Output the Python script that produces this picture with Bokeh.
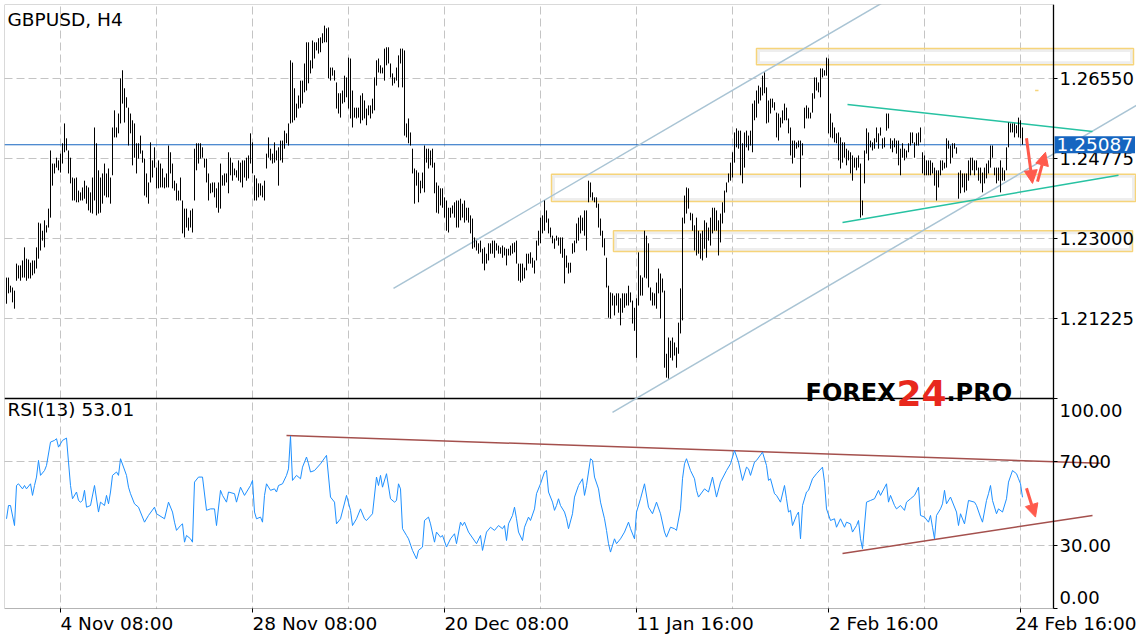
from bokeh.plotting import figure
from bokeh.models import (Range1d, FixedTicker, Grid, Label, Arrow, NormalHead, LinearAxis,
                          PrintfTickFormatter, BoxAnnotation)
from bokeh.embed import file_html
from bokeh.resources import INLINE
from bokeh.core.properties import value

# ---------------- data (GBPUSD H4) ----------------
highs = [
1.2214,1.2214,1.2196,1.2192,1.2185,1.2245,1.2241,1.2241,1.2252,1.2281,
1.2256,1.2254,1.2247,1.2252,1.2252,1.2281,1.2336,1.2334,1.2318,1.2341,
1.2330,1.2367,1.2496,1.2467,1.2467,1.2480,1.2474,1.2489,1.2512,1.2556,
1.2523,1.2496,1.2480,1.2436,1.2434,1.2436,1.2407,1.2403,1.2414,1.2429,
1.2418,1.2414,1.2403,1.2436,1.2547,1.2512,1.2452,1.2436,1.2445,1.2467,
1.2445,1.2456,1.2436,1.2547,1.2585,1.2547,1.2578,1.2656,1.2674,1.2634,
1.2614,1.2591,1.2578,1.2563,1.2556,1.2512,1.2512,1.2529,1.2496,1.2478,
1.2445,1.2425,1.2514,1.2474,1.2503,1.2458,1.2474,1.2467,1.2456,1.2436,
1.2445,1.2507,1.2492,1.2467,1.2429,1.2423,1.2407,1.2436,1.2385,1.2367,
1.2367,1.2347,1.2363,1.2367,1.2500,1.2512,1.2512,1.2512,1.2503,1.2478,
1.2478,1.2445,1.2423,1.2425,1.2425,1.2412,1.2425,1.2467,1.2441,1.2445,
1.2445,1.2492,1.2480,1.2469,1.2456,1.2452,1.2474,1.2469,1.2474,1.2474,
1.2480,1.2485,1.2534,1.2514,1.2441,1.2434,1.2423,1.2423,1.2418,1.2429,
1.2489,1.2525,1.2500,1.2489,1.2514,1.2496,1.2503,1.2518,1.2518,1.2540,
1.2534,1.2556,1.2696,1.2691,1.2634,1.2600,1.2618,1.2651,1.2651,1.2689,
1.2736,1.2736,1.2696,1.2740,1.2736,1.2736,1.2745,1.2747,1.2756,1.2773,
1.2767,1.2769,1.2680,1.2680,1.2674,1.2647,1.2623,1.2623,1.2629,1.2662,
1.2658,1.2702,1.2700,1.2629,1.2591,1.2591,1.2591,1.2618,1.2623,1.2607,
1.2589,1.2596,1.2596,1.2611,1.2658,1.2696,1.2700,1.2685,1.2680,1.2722,
1.2725,1.2725,1.2689,1.2667,1.2658,1.2680,1.2707,1.2722,1.2722,1.2718,
1.2556,1.2567,1.2536,1.2500,1.2456,1.2452,1.2447,1.2429,1.2447,1.2507,
1.2500,1.2500,1.2496,1.2500,1.2469,1.2425,1.2418,1.2412,1.2412,1.2392,
1.2385,1.2369,1.2369,1.2374,1.2381,1.2385,1.2385,1.2389,1.2378,1.2385,
1.2369,1.2369,1.2352,1.2345,1.2303,1.2296,1.2290,1.2296,1.2278,1.2281,
1.2267,1.2290,1.2290,1.2296,1.2296,1.2290,1.2285,1.2281,1.2285,1.2281,
1.2278,1.2278,1.2285,1.2290,1.2292,1.2296,1.2245,1.2245,1.2245,1.2236,
1.2267,1.2267,1.2270,1.2258,1.2252,1.2296,1.2318,1.2347,1.2352,1.2385,
1.2363,1.2345,1.2325,1.2307,1.2301,1.2307,1.2303,1.2303,1.2303,1.2278,
1.2263,1.2247,1.2247,1.2290,1.2296,1.2334,1.2347,1.2352,1.2347,1.2363,
1.2363,1.2429,1.2425,1.2403,1.2392,1.2392,1.2378,1.2345,1.2318,1.2301,
1.2258,1.2196,1.2181,1.2179,1.2174,1.2179,1.2179,1.2168,1.2179,1.2179,
1.2179,1.2196,1.2181,1.2163,1.2147,1.2168,1.2270,1.2219,1.2214,1.2318,
1.2307,1.2290,1.2192,1.2181,1.2179,1.2203,1.2234,1.2223,1.2212,1.2185,
1.2045,1.2081,1.2074,1.2081,1.2070,1.2059,1.2114,1.2190,1.2347,1.2396,
1.2414,1.2412,1.2358,1.2356,1.2330,1.2347,1.2318,1.2312,1.2318,1.2341,
1.2336,1.2325,1.2347,1.2369,1.2369,1.2363,1.2341,1.2356,1.2381,1.2407,
1.2425,1.2445,1.2469,1.2492,1.2536,1.2545,1.2540,1.2540,1.2512,1.2536,
1.2540,1.2529,1.2540,1.2600,1.2607,1.2629,1.2640,1.2636,1.2662,1.2669,
1.2636,1.2607,1.2611,1.2611,1.2603,1.2580,1.2578,1.2569,1.2585,1.2600,
1.2591,1.2567,1.2547,1.2518,1.2518,1.2514,1.2518,1.2518,1.2512,1.2591,
1.2596,1.2591,1.2580,1.2623,1.2658,1.2658,1.2647,1.2678,1.2678,1.2674,
1.2702,1.2700,1.2578,1.2558,1.2547,1.2534,1.2536,1.2525,1.2514,1.2514,
1.2500,1.2496,1.2492,1.2485,1.2480,1.2480,1.2485,1.2467,1.2385,1.2496,
1.2545,1.2536,1.2518,1.2514,1.2523,1.2547,1.2534,1.2547,1.2523,1.2525,
1.2578,1.2578,1.2523,1.2518,1.2523,1.2518,1.2518,1.2500,1.2512,1.2500,
1.2496,1.2512,1.2536,1.2536,1.2514,1.2534,1.2536,1.2547,1.2492,1.2485,
1.2474,1.2474,1.2474,1.2469,1.2458,1.2452,1.2452,1.2474,1.2474,1.2469,
1.2523,1.2518,1.2507,1.2512,1.2512,1.2503,1.2447,1.2452,1.2445,1.2445,
1.2445,1.2474,1.2480,1.2480,1.2474,1.2474,1.2458,1.2458,1.2447,1.2458,
1.2467,1.2474,1.2507,1.2507,1.2458,1.2458,1.2458,1.2474,1.2458,1.2452,
1.2503,1.2558,1.2556,1.2556,1.2556,1.2552,1.2569,1.2563,1.2547]

lows = [
1.2156,1.2179,1.2181,1.2159,1.2145,1.2207,1.2212,1.2207,1.2214,1.2214,
1.2207,1.2212,1.2212,1.2219,1.2223,1.2234,1.2256,1.2274,1.2296,1.2281,
1.2314,1.2325,1.2347,1.2418,1.2445,1.2458,1.2452,1.2447,1.2467,1.2492,
1.2496,1.2445,1.2423,1.2385,1.2385,1.2381,1.2381,1.2385,1.2385,1.2389,
1.2378,1.2363,1.2358,1.2356,1.2385,1.2352,1.2356,1.2358,1.2378,1.2396,
1.2392,1.2392,1.2378,1.2441,1.2525,1.2525,1.2534,1.2556,1.2600,1.2558,
1.2591,1.2507,1.2534,1.2463,1.2480,1.2445,1.2478,1.2489,1.2469,1.2396,
1.2392,1.2378,1.2425,1.2436,1.2458,1.2412,1.2412,1.2414,1.2414,1.2412,
1.2414,1.2414,1.2445,1.2412,1.2407,1.2385,1.2385,1.2385,1.2312,1.2303,
1.2325,1.2318,1.2325,1.2314,1.2385,1.2452,1.2467,1.2478,1.2480,1.2458,
1.2425,1.2385,1.2401,1.2403,1.2392,1.2369,1.2358,1.2367,1.2418,1.2418,
1.2425,1.2401,1.2441,1.2429,1.2441,1.2436,1.2429,1.2425,1.2414,1.2436,
1.2429,1.2434,1.2467,1.2445,1.2385,1.2385,1.2392,1.2396,1.2392,1.2385,
1.2456,1.2480,1.2474,1.2467,1.2469,1.2474,1.2418,1.2474,1.2469,1.2500,
1.2512,1.2507,1.2556,1.2558,1.2563,1.2569,1.2589,1.2591,1.2600,1.2625,
1.2629,1.2645,1.2667,1.2678,1.2700,1.2718,1.2711,1.2714,1.2734,1.2736,
1.2736,1.2656,1.2651,1.2662,1.2651,1.2589,1.2578,1.2569,1.2600,1.2603,
1.2614,1.2589,1.2567,1.2547,1.2569,1.2567,1.2569,1.2556,1.2563,1.2567,
1.2552,1.2574,1.2567,1.2578,1.2585,1.2640,1.2669,1.2667,1.2667,1.2651,
1.2685,1.2689,1.2658,1.2640,1.2645,1.2651,1.2636,1.2689,1.2636,1.2529,
1.2525,1.2512,1.2507,1.2445,1.2378,1.2418,1.2381,1.2401,1.2412,1.2403,
1.2469,1.2456,1.2463,1.2458,1.2401,1.2358,1.2356,1.2374,1.2369,1.2347,
1.2318,1.2314,1.2347,1.2356,1.2347,1.2325,1.2325,1.2341,1.2347,1.2336,
1.2341,1.2336,1.2312,1.2278,1.2281,1.2274,1.2267,1.2270,1.2245,1.2230,
1.2245,1.2252,1.2267,1.2267,1.2258,1.2274,1.2267,1.2267,1.2258,1.2263,
1.2241,1.2263,1.2263,1.2267,1.2270,1.2245,1.2207,1.2203,1.2207,1.2212,
1.2230,1.2245,1.2245,1.2236,1.2223,1.2252,1.2285,1.2290,1.2312,1.2318,
1.2336,1.2312,1.2303,1.2290,1.2278,1.2296,1.2285,1.2267,1.2258,1.2201,
1.2236,1.2223,1.2225,1.2267,1.2270,1.2290,1.2296,1.2312,1.2318,1.2307,
1.2274,1.2381,1.2392,1.2385,1.2381,1.2369,1.2325,1.2307,1.2281,1.2263,
1.2192,1.2125,1.2123,1.2152,1.2130,1.2152,1.2136,1.2108,1.2136,1.2147,
1.2152,1.2152,1.2159,1.2112,1.2096,1.2036,1.2152,1.2174,1.2174,1.2214,
1.2212,1.2192,1.2163,1.2152,1.2152,1.2145,1.2179,1.2123,1.2181,1.2014,
1.1992,1.1990,1.2036,1.2030,1.2041,1.2014,1.2045,1.2090,1.2119,1.2334,
1.2356,1.2367,1.2341,1.2318,1.2274,1.2263,1.2267,1.2256,1.2252,1.2278,
1.2258,1.2296,1.2285,1.2312,1.2318,1.2318,1.2263,1.2292,1.2334,1.2358,
1.2403,1.2425,1.2429,1.2436,1.2469,1.2503,1.2500,1.2441,1.2423,1.2458,
1.2503,1.2496,1.2507,1.2492,1.2563,1.2569,1.2600,1.2607,1.2618,1.2623,
1.2556,1.2558,1.2578,1.2591,1.2585,1.2525,1.2518,1.2547,1.2556,1.2563,
1.2563,1.2534,1.2485,1.2467,1.2480,1.2500,1.2503,1.2414,1.2485,1.2545,
1.2567,1.2567,1.2567,1.2580,1.2611,1.2629,1.2625,1.2614,1.2658,1.2662,
1.2662,1.2534,1.2525,1.2523,1.2514,1.2512,1.2474,1.2456,1.2469,1.2480,
1.2463,1.2474,1.2445,1.2429,1.2458,1.2452,1.2458,1.2347,1.2352,1.2423,
1.2489,1.2474,1.2503,1.2496,1.2500,1.2514,1.2500,1.2529,1.2500,1.2503,
1.2540,1.2545,1.2500,1.2492,1.2503,1.2489,1.2463,1.2441,1.2480,1.2474,
1.2480,1.2492,1.2507,1.2512,1.2480,1.2507,1.2507,1.2514,1.2445,1.2441,
1.2441,1.2441,1.2441,1.2445,1.2418,1.2385,1.2414,1.2441,1.2452,1.2456,
1.2458,1.2500,1.2467,1.2480,1.2500,1.2489,1.2389,1.2401,1.2414,1.2403,
1.2407,1.2429,1.2441,1.2452,1.2441,1.2452,1.2429,1.2423,1.2403,1.2423,
1.2434,1.2445,1.2458,1.2480,1.2441,1.2423,1.2429,1.2403,1.2429,1.2429,
1.2452,1.2503,1.2536,1.2536,1.2525,1.2534,1.2525,1.2523,1.2509]

bar_index = list(range(len(highs)))

rsi_bars = [
0,1,2,4,5,6,8,9,10,12,13,14,15,16,17,19,20,22,24,25,26,28,30,31,32,33,35,36,37,38,39,40,42,44,46,47,49,50,51,52,53,55,56,57,60,61,62,64,66,69,71,74,75,79,81,83,84,85,87,88,89,90,92,93,94,96,98,100,102,104,105,107,108,110,111,114,115,117,119,122,123,124,125,127,128,129,130,132,134,135,136,138,140,141,142,143,145,147,148,150,151,152,154,157,160,162,164,165,167,170,172,173,175,177,179,180,183,185,
186,187,188,190,192,194,195,196,197,198,200,201,203,205,206,208,209,211,212,214,215,217,218,220,222,224,225,227,228,229,231,235,237,238,240,242,244,246,248,249,250,251,253,254,255,256,258,259,260,261,262,264,265,267,269,270,271,273,274,275,276,277,279,280,281,283,284,286,288,289,290,292,293,294,296,297,299,300,301,302,304,305,307,309,311,312,314,315,317,319,321,323,325,327,329,330,332,334,335,337,338,339,340,342,344,345,346,349,351,353,355,357,360,362,364,366,368,370,371,372,374,
375,378,380,381,382,384,385,387,389,390,391,392,393,395,396,397,398,400,401,403,405,408,409,410,412,414,415,417,419,420,422,423,425,426,427,428,430,432,434,436,437,440,441,442,444,445,447,449,450,452,454,456,457,459,461,462,463,464,465,467,468,469,470,472,475,476,477,479,481,484,485,487,488,490,491,492,493,495,496,498,500,501,503,505,506,507,508]

rsi_values = [
42.8,49.1,49.1,39.6,58.6,59.4,57.0,58.6,57.0,59.4,53.9,58.6,62.6,70.5,63.4,65.7,68.1,79.2,80.0,80.8,76.8,80.0,81.1,69.7,58.6,52.3,55.5,51.5,50.7,51.5,56.3,48.3,49.1,58.6,46.0,50.7,49.1,53.9,49.9,55.5,63.4,65.0,63.4,71.3,63.4,57.8,54.7,49.9,48.3,41.2,44.4,48.3,45.2,42.8,50.7,46.0,41.2,37.3,39.6,40.4,31.7,34.9,33.3,31.7,60.2,62.6,62.6,46.8,47.5,47.5,39.6,56.3,53.9,50.7,55.5,54.7,50.7,57.8,53.9,58.6,61.0,46.0,42.8,43.6,41.2,53.9,59.4,56.3,57.0,55.5,58.6,59.4,63.4,66.5,82.0,61.0,63.4,61.8,67.3,72.1,68.9,65.0,65.7,68.9,72.9,53.1,50.7,40.4,42.8,53.9,46.8,39.6,42.8,47.5,42.8,42.0,45.2,62.6,
58.6,63.4,57.8,64.2,52.3,50.7,51.5,59.4,57.0,38.1,34.9,33.3,27.8,23.8,27.8,29.4,42.0,43.6,40.4,31.7,36.5,34.1,34.9,29.4,33.3,35.7,31.0,41.2,39.6,41.2,36.5,31.0,34.9,27.8,36.5,38.8,37.3,39.6,38.1,39.6,32.5,40.4,44.4,48.3,42.8,36.5,32.5,38.8,41.2,43.6,42.0,47.5,54.7,59.4,65.0,65.7,55.5,50.7,46.8,49.1,52.3,49.1,46.0,42.8,38.1,45.2,53.1,58.6,61.8,53.9,58.6,71.3,70.5,62.6,57.0,50.7,42.8,37.3,31.0,27.0,33.3,31.0,33.3,36.5,41.2,38.1,33.3,46.0,52.3,59.4,48.3,45.2,50.7,45.2,36.5,34.1,38.8,38.1,37.3,47.5,61.8,68.9,71.3,65.7,61.8,56.3,53.1,57.0,55.5,62.6,53.1,60.2,65.7,68.9,75.2,69.7,61.0,67.3,66.5,63.4,69.7,
70.5,74.4,68.1,61.0,61.8,54.7,53.9,50.7,58.6,52.3,46.0,46.8,39.6,44.4,46.0,33.3,49.1,55.5,56.3,61.8,64.2,67.3,60.2,47.5,42.0,42.8,38.8,42.8,38.8,41.2,40.4,36.5,39.6,42.0,33.3,28.6,50.7,51.5,52.3,56.3,53.9,59.4,50.7,53.9,49.1,47.5,49.1,46.8,50.7,52.3,53.9,57.8,44.4,43.6,41.2,44.4,38.8,33.3,44.4,47.5,49.9,56.3,49.9,53.1,46.0,39.6,45.2,40.4,51.5,50.7,49.1,43.6,41.2,51.5,54.7,58.6,51.5,45.2,47.5,46.0,52.3,60.2,65.7,64.2,61.8,59.4,53.01]

date_tick_bars = [27, 123, 219, 315, 411, 507]
date_tick_labels = ["4 Nov 08:00", "28 Nov 08:00", "20 Dec 08:00",
                    "11 Jan 16:00", "2 Feb 16:00", "24 Feb 16:00"]
date_label_centers = [55.2, 154.2, 250.1, 344.3, 438.6, 537.6]   # labels start at their tick
grid_bars = [27, 75, 123, 171, 219, 267, 315, 363, 411, 459, 507]
price_ticks = [1.21225, 1.23000, 1.24775, 1.26550]
rsi_ticks = [0, 30, 70, 100]
rsi_grid = [30, 70]
rsi_edge_label_pos = [94.2, 5.5]
rsi_edge_label_text = ["100.00", "0.00"]
last_price = 1.25087
last_rsi = 53.01

# drawn objects (support/resistance zones, trend lines, arrows)
zone_left = [375, 272.5, 303.5]
zone_right = [563.5, 564.5, 563]
zone_top = [1.2722, 1.2443, 1.2318]
zone_bottom = [1.2686, 1.2383, 1.2272]
channel_x0 = [193.5, 303.0]
channel_y0 = [1.2190, 1.1915]
channel_x1 = [445.0, 565.0]
channel_y1 = [1.2842, 1.2596]
wedge_x0 = [420.5, 418.0]
wedge_y0 = [1.2598, 1.2336]
wedge_x1 = [543.0, 556.0]
wedge_y1 = [1.2538, 1.2441]
rsi_line_x0 = [140, 418]
rsi_line_y0 = [82.3, 26.3]
rsi_line_x1 = [547, 543]
rsi_line_y1 = [69.1, 44.4]

FONT = "DejaVu Sans"
GRID_COLOR = "#c4c4c4"
GRID_DASH = "8 4"
BLUE = "#1565c0"
RED = "#ff5a4c"
AXIS_X = 523.5
PRICE_LO, PRICE_HI = 1.14132, 1.28199      # whole canvas height
PANEL_BOTTOM = 1.14797                     # bottom edge of the RSI panel
PANEL_SPLIT = 1.19457                      # border between price and RSI panels
PX_X, PX_Y = 0.5, 0.00022188               # one pixel in data units

p = figure(width=1136, height=638, x_range=Range1d(-1, 565),
           y_range=Range1d(PRICE_LO, PRICE_HI),
           output_backend="svg", toolbar_location=None,
           x_axis_location=None, y_axis_location=None,
           min_border_left=4, min_border_right=0, min_border_top=4, min_border_bottom=0)
p.extra_y_ranges = {"rsi": Range1d(-14.0, 286.83)}
p.outline_line_color = None
p.background_fill_color = "white"
p.border_fill_color = "white"
p.xgrid.visible = False
p.ygrid.visible = False

# grids
p.add_layout(Grid(dimension=0, ticker=FixedTicker(ticks=grid_bars),
                  grid_line_color=GRID_COLOR, grid_line_dash=GRID_DASH))
p.add_layout(Grid(dimension=1, ticker=FixedTicker(ticks=price_ticks),
                  grid_line_color=GRID_COLOR, grid_line_dash=GRID_DASH))
p.add_layout(Grid(dimension=1, ticker=FixedTicker(ticks=rsi_grid), y_range_name="rsi",
                  grid_line_color=GRID_COLOR, grid_line_dash=GRID_DASH))
# blank the scale areas (right of the price axis, below the RSI panel), under the glyphs
p.add_layout(BoxAnnotation(left=AXIS_X, fill_color="white", fill_alpha=1.0,
                           line_alpha=0, level="underlay"))
p.add_layout(BoxAnnotation(top=PANEL_BOTTOM, fill_color="white", fill_alpha=1.0,
                           line_alpha=0, level="underlay"))

# date axis: tick marks
xa = LinearAxis(fixed_location=PANEL_BOTTOM, ticker=FixedTicker(ticks=date_tick_bars),
                major_label_overrides={b: "" for b in date_tick_bars},
                major_tick_out=4, major_tick_in=0, minor_tick_out=0, minor_tick_in=0,
                major_tick_line_color="black", axis_line_color=None, major_label_standoff=0)
p.add_layout(xa, "below")

# date axis: labels, each starting at its tick
xl = LinearAxis(fixed_location=PANEL_BOTTOM, ticker=FixedTicker(ticks=date_label_centers),
                major_label_overrides={c: t for c, t in zip(date_label_centers, date_tick_labels)},
                major_tick_out=0, major_tick_in=0, minor_tick_out=0, minor_tick_in=0,
                axis_line_color=None, major_label_standoff=4,
                major_label_text_font=FONT, major_label_text_font_size="18.5px",
                major_label_text_color="black")
p.add_layout(xl, "below")

# price axis
ya = LinearAxis(fixed_location=AXIS_X, ticker=FixedTicker(ticks=price_ticks),
                formatter=PrintfTickFormatter(format="%.5f"), bounds=(PANEL_BOTTOM, PRICE_HI),
                major_tick_out=4, major_tick_in=0, minor_tick_out=0, minor_tick_in=0,
                major_label_standoff=2, axis_line_color="black", axis_line_width=1.3,
                major_tick_line_color="black",
                major_label_text_font=FONT, major_label_text_font_size="18px",
                major_label_text_color="black")
p.add_layout(ya, "right")

# RSI axis
ra = LinearAxis(y_range_name="rsi", fixed_location=AXIS_X, ticker=FixedTicker(ticks=rsi_ticks),
                formatter=PrintfTickFormatter(format="%.2f"),
                major_label_overrides={0: "", 100: ""},
                major_tick_out=4, major_tick_in=0, minor_tick_out=0, minor_tick_in=0,
                major_label_standoff=2, axis_line_color=None,
                major_label_text_font=FONT, major_label_text_font_size="18px",
                major_label_text_color="black")
p.add_layout(ra, "right")
re_ = LinearAxis(y_range_name="rsi", fixed_location=AXIS_X,
                 ticker=FixedTicker(ticks=rsi_edge_label_pos),
                 major_label_overrides={v: t for v, t in zip(rsi_edge_label_pos, rsi_edge_label_text)},
                 major_tick_out=0, major_tick_in=0, minor_tick_out=0, minor_tick_in=0,
                 major_label_standoff=6, axis_line_color=None,
                 major_label_text_font=FONT, major_label_text_font_size="18px",
                 major_label_text_color="black")
p.add_layout(re_, "right")

# frame and panel separator
p.add_layout(BoxAnnotation(left=-1, right=AXIS_X, top=PRICE_HI, bottom=PANEL_BOTTOM,
                           fill_alpha=0, line_color="black", line_width=1))
p.segment(x0=[-1], y0=[PANEL_SPLIT], x1=[AXIS_X], y1=[PANEL_SPLIT],
          line_color="black", line_width=1.3)

# current price line
p.segment(x0=[-1], y0=[last_price], x1=[AXIS_X], y1=[last_price],
          line_color=BLUE, line_width=1.2)

# zones (with a soft inner shadow) and trend lines
p.quad(left=[v + 2 * PX_X for v in zone_left], right=[v - 2 * PX_X for v in zone_right],
       top=[v - 2 * PX_Y for v in zone_top], bottom=[v + 2 * PX_Y for v in zone_bottom],
       fill_alpha=0, line_color="#cfcfcf", line_alpha=0.35, line_width=3)
p.quad(left=zone_left, right=zone_right, top=zone_top, bottom=zone_bottom,
       fill_alpha=0, line_color="#f6d47a", line_width=1.5)
p.segment(x0=[514.3], y0=[1.2629], x1=[516.0], y1=[1.2629], line_color="#f6d47a", line_width=1.5)
p.segment(x0=channel_x0, y0=channel_y0, x1=channel_x1, y1=channel_y1,
          line_color="#a9c4d4", line_width=1.5)
p.segment(x0=wedge_x0, y0=wedge_y0, x1=wedge_x1, y1=wedge_y1,
          line_color="#27c2a2", line_width=1.5)

# price bars
p.segment(x0=bar_index, y0=lows, x1=bar_index, y1=highs, line_color="black", line_width=1)

# RSI
p.segment(x0=rsi_line_x0, y0=rsi_line_y0, x1=rsi_line_x1, y1=rsi_line_y1,
          line_color="#a4504d", line_width=1.5, y_range_name="rsi")
p.line(rsi_bars, rsi_values, line_color="#1e90ff", line_width=1, y_range_name="rsi")

# arrows
for xs, ys, xe, ye, rng in [(510, 1.2523, 513, 1.2423, "default"),
                            (515.5, 1.2427, 519.5, 1.2492, "default"),
                            (510, 57.3, 514.5, 43.6, "rsi")]:
    p.add_layout(Arrow(end=NormalHead(size=13, fill_color=RED, line_color=RED),
                       x_start=xs, y_start=ys, x_end=xe, y_end=ye,
                       line_color=RED, line_width=3, y_range_name=rng))

# watermark
p.text(x=[399.5], y=[1.1959], text=["FOREX"], text_font=value(FONT), text_font_style="bold",
       text_font_size="24px", text_color="black", text_baseline="alphabetic")
p.text(x=[445], y=[1.1959], text=["24"], text_font=value(FONT), text_font_style="bold",
       text_font_size="36px", text_color="#e8281d", text_baseline="alphabetic")
p.text(x=[470], y=[1.1959], text=[".PRO"], text_font=value(FONT), text_font_style="bold",
       text_font_size="24px", text_color="black", text_baseline="alphabetic")

# panel titles and current price tag
p.add_layout(Label(x=0.5, y=1.2811, text="GBPUSD, H4", text_font=FONT, text_font_size="18.5px",
                   text_baseline="top", text_color="black"))
p.add_layout(Label(x=0.5, y=99.5, y_range_name="rsi", text="RSI(13) %.2f" % last_rsi,
                   text_font=FONT, text_font_size="18.5px", text_baseline="top",
                   text_color="black"))
p.add_layout(Label(x=AXIS_X, y=last_price, x_offset=1, text="%.5f" % last_price,
                   text_font=FONT, text_font_size="18.5px", text_color="white",
                   text_baseline="middle", text_align="left",
                   background_fill_color=BLUE, padding=2))

open("out.html", "w").write(file_html(p, INLINE))
